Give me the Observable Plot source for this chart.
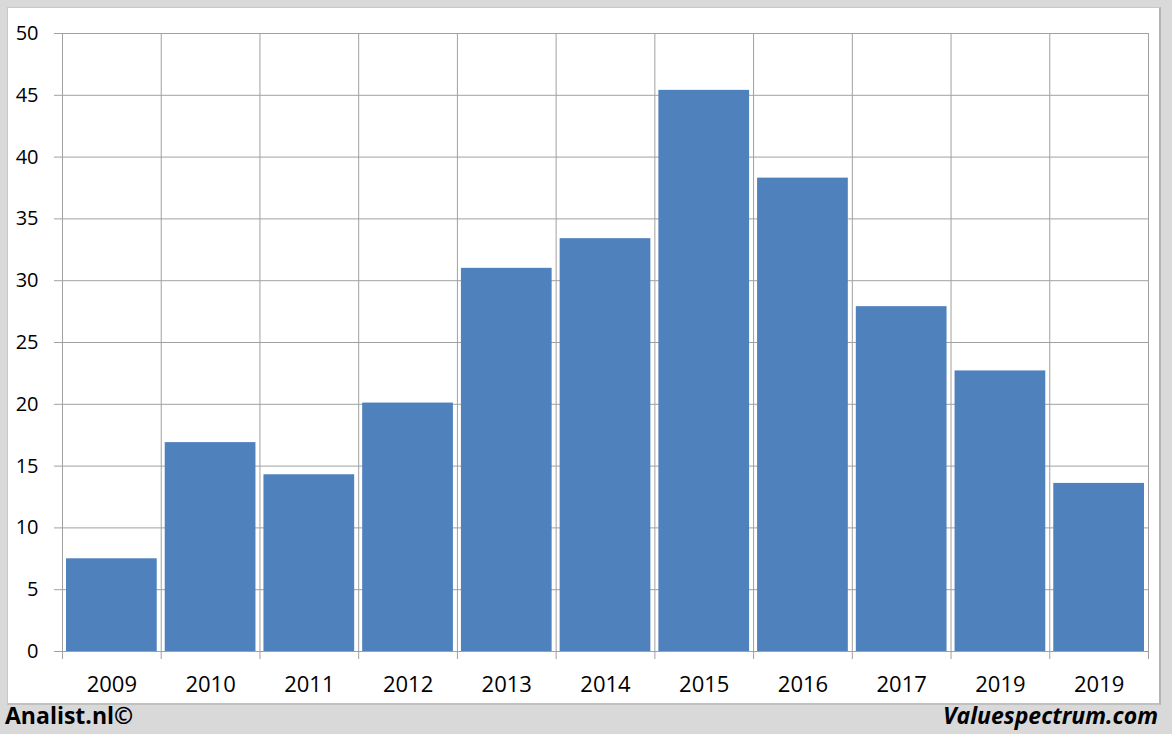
<!DOCTYPE html>
<html><head><meta charset="utf-8">
<script src="https://cdn.jsdelivr.net/npm/d3@7"></script>
<script src="https://cdn.jsdelivr.net/npm/@observablehq/plot@0.6"></script>
<style>
body{margin:0;background:#d9d9d9;}
#page{position:relative;width:1172px;height:734px;background:#d9d9d9;overflow:hidden;font-family:"Open Sans",sans-serif;}
#panel{position:absolute;left:7px;top:7px;width:1151px;height:695px;background:#fff;border:1px solid #c8c8c8;border-right:2px solid #b4b4b4;border-bottom:2px solid #c0c0c0;}
#chart{position:absolute;left:0;top:0;}
.foot{position:absolute;top:704px;font-weight:bold;font-size:23px;line-height:23px;color:#000;white-space:nowrap;}
</style></head>
<body>
<div id="page">
  <div id="panel"></div>
  <div id="chart"></div>
  <div class="foot" style="left:5px;">Analist.nl©</div>
  <div class="foot" style="right:14px;font-style:italic;">Valuespectrum.com</div>
</div>
<script>
const years = ["2009","2010","2011","2012","2013","2014","2015","2016","2017","2019","2019"];
const values = [7.5,16.9,14.3,20.1,31.0,33.4,45.4,38.3,27.9,22.7,13.6];
const yTicks = [0,5,10,15,20,25,30,35,40,45,50];

const data = years.map((y,i)=>({i, year:y, value: values[i]}));
const boundaries = d3.range(years.length+1);
const centers = years.map((_,i)=>i+0.5);
const gridColor = "#a0a0a0";

const chart = Plot.plot({
  width:1172, height:704,
  marginLeft:62, marginRight:24, marginTop:33, marginBottom:53,
  x:{domain:[0, years.length]},
  y:{domain:[0,50]},
  style:{background:"transparent", fontFamily:"Open Sans, sans-serif", color:"#000", overflow:"visible"},
  marks:[
    Plot.gridY(yTicks,{stroke:gridColor, strokeOpacity:1, strokeWidth:1}),
    Plot.ruleX(boundaries,{y1:0, y2:50, stroke:gridColor, strokeWidth:1}),
    Plot.rectY(data,{x1:"i", x2:d=>d.i+1, y:"value", fill:"#4f81bd", insetLeft:4, insetRight:4}),
    Plot.axisY(yTicks,{tickSize:8, tickPadding:16, stroke:gridColor, fontSize:20, label:null, tickFormat:d=>String(d)}),
    Plot.axisX(boundaries,{tickSize:8, tickFormat:()=>"", stroke:gridColor, label:null}),
    Plot.axisX(centers,{tickSize:0, tickPadding:25, tickFormat:d=>years[Math.floor(d)], fontSize:22, label:null})
  ]
});
document.getElementById("chart").appendChild(chart);
</script>
</body></html>
